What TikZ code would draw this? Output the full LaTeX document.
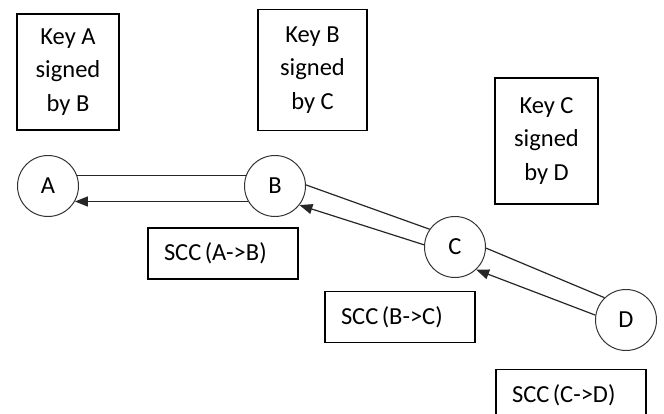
\documentclass[tikz,border=0pt]{standalone}
\usepackage{fontspec}
\setmainfont{Carlito}
\usetikzlibrary{arrows.meta}

\begin{document}
\begin{tikzpicture}[x=1pt, y=-1pt,
                    font=\fontsize{24.5}{33.5}\selectfont,
                    party/.style={circle, draw=black!80, line width=1pt, minimum size=61pt, inner sep=0pt},
                    keybox/.style={draw, line width=1.3pt, align=center, inner sep=0pt},
                    sccbox/.style={draw, line width=1.3pt, minimum height=51pt, text width=118pt, inner xsep=16pt, align=left},
                    link/.style={line width=1.2pt, black!85},
                    sig/.style={->, >={Triangle[length=13pt, width=10pt]}, line width=1.2pt, black!85}]

            \useasboundingbox (0,0) rectangle (664,414);

            \node[party] (a) at (48,186)  {A};
            \node[party] (b) at (275,186) {B};
            \node[party] (c) at (455,247) {C};
            \node[party] (d) at (626,320) {D};

            \node[keybox, minimum width=102pt, minimum height=116pt] (ka) at (68,72)    {Key A\\signed\\by B};
            \node[keybox, minimum width=109pt, minimum height=121pt] (kb) at (312.5,70) {Key B\\signed\\by C};
            \node[keybox, minimum width=103pt, minimum height=126pt] (kc) at (546.5,141) {Key C\\signed\\by D};

            \node[sccbox] (sab) at (223,253.5) {SCC\hspace{0.14em}(A->B)};
            \node[sccbox] (sbc) at (400,317)   {SCC\hspace{0.14em}(B->C)};
            \node[sccbox] (scd) at (571,395)   {SCC\hspace{0.14em}(C->D)};

            \draw[link] (a.20) -- (b.160);
            \draw[sig] (b.-150) -- (a.-30);

            \draw[link] (b.2) -- (c.145);
            \draw[sig] (c.176) -- (b.-38);

            \draw[link] (c.-2) -- (d.134);
            \draw[sig] (d.171) -- (c.-47);
\end{tikzpicture}
\end{document}
